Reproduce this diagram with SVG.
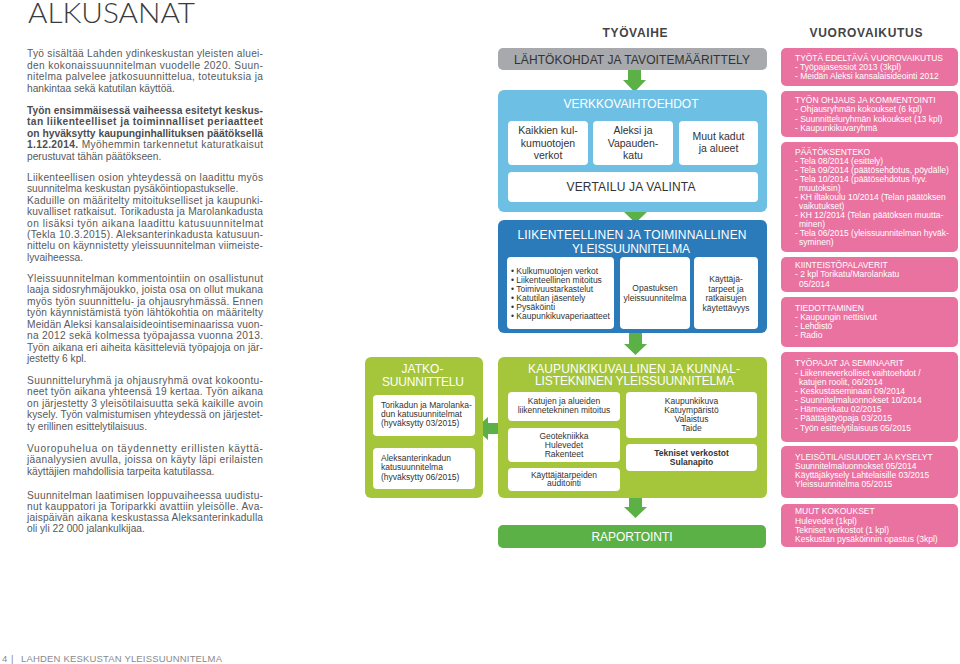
<svg xmlns="http://www.w3.org/2000/svg" width="960" height="664" viewBox="0 0 960 664">
<style>
text{font-family:"Liberation Sans",Arial,sans-serif}
.b{font-size:10.2px;fill:#58595b}
.bb{font-weight:bold;fill:#4d4d4f}
.title{font-family:Lato,"Liberation Sans",sans-serif;font-weight:300;font-size:26.5px;fill:#3a3a3c}
.foot{font-size:9.5px;fill:#8a8a8c}
.hd{font-size:12px;font-weight:bold;fill:#444;text-anchor:middle}
.wh{font-size:12px;fill:#fff;text-anchor:middle}
.dk{font-size:12px;fill:#333;text-anchor:middle}
.lbl{font-size:10.5px;fill:#333;text-anchor:middle}
.sm{font-size:8.5px;fill:#333}
.smc{font-size:8.5px;fill:#333;text-anchor:middle}
.pk{font-size:8.5px;fill:#fff}
.pkh{font-size:8.5px;fill:#fff}
.wbox{fill:#fff}
.arr{fill:#5cb146}
</style>

<g id="intro">
<text class="title" x="28" y="23" textLength="167" lengthAdjust="spacingAndGlyphs">ALKUSANAT</text>
<text class="b" x="27" y="57" textLength="236">Työ sisältää Lahden ydinkeskustan yleisten aluei-</text>
<text class="b" x="27" y="68.5" textLength="236">den kokonaissuunnitelman vuodelle 2020. Suun-</text>
<text class="b" x="27" y="80" textLength="236">nitelma palvelee jatkosuunnittelua, toteutuksia ja</text>
<text class="b" x="27" y="91.5">hankintaa sekä katutilan käyttöä.</text>

<text class="b bb" x="27" y="113.5" textLength="236">Työn ensimmäisessä vaiheessa esitetyt keskus-</text>
<text class="b bb" x="27" y="125" textLength="236">tan liikenteelliset ja toiminnalliset periaatteet</text>
<text class="b bb" x="27" y="136.5" textLength="236" lengthAdjust="spacingAndGlyphs">on hyväksytty kaupunginhallituksen päätöksellä</text>
<text class="b" x="27" y="148" textLength="236"><tspan class="bb">1.12.2014.</tspan> Myöhemmin tarkennetut katuratkaisut</text>
<text class="b" x="27" y="159.5">perustuvat tähän päätökseen.</text>

<text class="b" x="27" y="181" textLength="236">Liikenteellisen osion yhteydessä on laadittu myös</text>
<text class="b" x="27" y="192.4">suunnitelma keskustan pysäköintiopastukselle.</text>
<text class="b" x="27" y="203.8" textLength="236">Kaduille on määritelty mitoitukselliset ja kaupunki-</text>
<text class="b" x="27" y="215.2" textLength="236">kuvalliset ratkaisut. Torikadusta ja Marolankadusta</text>
<text class="b" x="27" y="226.6" textLength="236">on lisäksi työn aikana laadittu katusuunnitelmat</text>
<text class="b" x="27" y="238" textLength="236">(Tekla  10.3.2015). Aleksanterinkadusta katusuun-</text>
<text class="b" x="27" y="249.4" textLength="236">nittelu on käynnistetty yleissuunnitelman viimeiste-</text>
<text class="b" x="27" y="260.8">lyvaiheessa.</text>

<text class="b" x="27" y="281.5" textLength="236">Yleissuunnitelman kommentointiin on osallistunut</text>
<text class="b" x="27" y="293" textLength="236">laaja sidosryhmäjoukko, joista osa on ollut mukana</text>
<text class="b" x="27" y="304.5" textLength="236">myös työn suunnittelu- ja ohjausryhmässä.  Ennen</text>
<text class="b" x="27" y="316" textLength="236">työn käynnistämistä työn lähtökohtia on määritelty</text>
<text class="b" x="27" y="327.5" textLength="236">Meidän Aleksi kansalaisideointiseminaarissa vuon-</text>
<text class="b" x="27" y="339" textLength="236">na 2012 sekä kolmessa työpajassa vuonna 2013.</text>
<text class="b" x="27" y="350.5" textLength="236">Työn aikana eri aiheita käsitteleviä työpajoja on jär-</text>
<text class="b" x="27" y="362">jestetty 6 kpl.</text>

<text class="b" x="27" y="383.5" textLength="236">Suunnitteluryhmä ja ohjausryhmä ovat kokoontu-</text>
<text class="b" x="27" y="395" textLength="236">neet työn aikana yhteensä 19 kertaa. Työn aikana</text>
<text class="b" x="27" y="406.5" textLength="236">on järjestetty 3 yleisötilaisuutta sekä kaikille avoin</text>
<text class="b" x="27" y="418" textLength="236">kysely. Työn valmistumisen yhteydessä on järjestet-</text>
<text class="b" x="27" y="429.5">ty erillinen esittelytilaisuus.</text>

<text class="b" x="27" y="452" textLength="236">Vuoropuhelua on täydennetty erillisten käyttä-</text>
<text class="b" x="27" y="463.3" textLength="236">jäanalyysien avulla, joissa on käyty läpi erilaisten</text>
<text class="b" x="27" y="474.6">käyttäjien mahdollisia tarpeita katutilassa.</text>

<text class="b" x="27" y="498.5" textLength="236">Suunnitelman laatimisen loppuvaiheessa uudistu-</text>
<text class="b" x="27" y="509.8" textLength="236">nut kauppatori ja Toriparkki avattiin yleisölle. Ava-</text>
<text class="b" x="27" y="521" textLength="236">jaispäivän aikana keskustassa Aleksanterinkadulla</text>
<text class="b" x="27" y="532">oli yli 22 000 jalankulkijaa.</text>

<text class="foot" x="2" y="662">4</text>
<text class="foot" x="11" y="662">|</text>
<text class="foot" x="21" y="662" textLength="201">LAHDEN KESKUSTAN YLEISSUUNNITELMA</text>
</g>

<g id="headers">
<text class="hd" x="635" y="37" textLength="65">TYÖVAIHE</text>
<text class="hd" x="866" y="37" textLength="113">VUOROVAIKUTUS</text>
</g>

<g id="connectors">
<polygon class="arr" points="628,70 641,70 641,80 646,80 634.5,92 623,80 628,80"/>
<polygon class="arr" points="629,202 642,202 642,212 647,212 635.5,223 624,212 629,212"/>
<polygon class="arr" points="629,333 642,333 642,344 647,344 635.5,355 624,344 629,344"/>
<polygon class="arr" points="629,497 642,497 642,507 647,507 635.5,518 624,507 629,507"/>
<polygon class="arr" points="498,423 488,423 488,417 475,428.5 488,440 488,434 498,434"/>
</g>

<g id="lahtokohdat">
<rect x="498" y="48" width="269" height="22" rx="5" fill="#a7a9ac"/>
<text class="dk" x="632" y="63.5" textLength="236">LÄHTÖKOHDAT JA TAVOITEMÄÄRITTELY</text>
</g>

<g id="verkkovaihtoehdot">
<rect x="498" y="90" width="269" height="122" rx="6" fill="#6dc0e4"/>
<text class="wh" x="631" y="108" textLength="135">VERKKOVAIHTOEHDOT</text>
<rect class="wbox" x="508" y="121" width="80" height="44" rx="4"/>
<rect class="wbox" x="593" y="121" width="80" height="44" rx="4"/>
<rect class="wbox" x="679" y="121" width="79" height="44" rx="4"/>
<text class="lbl" x="548" y="134">Kaikkien kul-</text>
<text class="lbl" x="548" y="146.5">kumuotojen</text>
<text class="lbl" x="548" y="158.5">verkot</text>
<text class="lbl" x="633" y="134">Aleksi ja</text>
<text class="lbl" x="633" y="146.5">Vapauden-</text>
<text class="lbl" x="633" y="158.5">katu</text>
<text class="lbl" x="718.5" y="140">Muut kadut</text>
<text class="lbl" x="718.5" y="152">ja alueet</text>
<rect class="wbox" x="508" y="172" width="250" height="30" rx="4"/>
<text class="dk" x="631" y="191" textLength="129">VERTAILU JA VALINTA</text>
</g>

<g id="liikenteellinen">
<rect x="498" y="220" width="269" height="113" rx="6" fill="#2b7bba"/>
<text class="wh" x="632" y="238.5" textLength="229">LIIKENTEELLINEN JA TOIMINNALLINEN</text>
<text class="wh" x="631" y="252.5" textLength="118">YLEISSUUNNITELMA</text>
<rect class="wbox" x="507" y="257" width="107" height="72" rx="4"/>
<rect class="wbox" x="620" y="257" width="70" height="72" rx="4"/>
<rect class="wbox" x="694" y="257" width="64" height="72" rx="4"/>
<text class="sm" x="511" y="273.5">• Kulkumuotojen verkot</text>
<text class="sm" x="511" y="282.5">• Liikenteellinen mitoitus</text>
<text class="sm" x="511" y="291.5">• Toimivuustarkastelut</text>
<text class="sm" x="511" y="300.5">• Katutilan jäsentely</text>
<text class="sm" x="511" y="309.5">• Pysäköinti</text>
<text class="sm" x="511" y="318.5">• Kaupunkikuvaperiaatteet</text>
<text class="smc" x="655" y="291">Opastuksen</text>
<text class="smc" x="655" y="300.5">yleissuunnitelma</text>
<text class="smc" x="726" y="282">Käyttäjä-</text>
<text class="smc" x="726" y="291.5">tarpeet ja</text>
<text class="smc" x="726" y="301">ratkaisujen</text>
<text class="smc" x="726" y="310.5">käytettävyys</text>
</g>

<g id="kaupunkikuvallinen">
<rect x="498" y="357" width="269" height="141" rx="6" fill="#a5c63b"/>
<text class="wh" x="634" y="372.5" textLength="212">KAUPUNKIKUVALLINEN JA KUNNAL-</text>
<text class="wh" x="634.5" y="385" textLength="199">LISTEKNINEN YLEISSUUNNITELMA</text>
<rect class="wbox" x="508" y="392" width="112" height="29" rx="4"/>
<rect class="wbox" x="508" y="428" width="112" height="34" rx="4"/>
<rect class="wbox" x="508" y="468" width="112" height="23" rx="4"/>
<rect class="wbox" x="626" y="392" width="131" height="46" rx="4"/>
<rect class="wbox" x="626" y="444" width="131" height="27" rx="4"/>
<text class="smc" x="564" y="403.5">Katujen ja alueiden</text>
<text class="smc" x="564" y="412.5">liikennetekninen mitoitus</text>
<text class="smc" x="564" y="438.5">Geotekniikka</text>
<text class="smc" x="564" y="447.5">Hulevedet</text>
<text class="smc" x="564" y="456.5">Rakenteet</text>
<text class="smc" x="564" y="477.5">Käyttäjätarpeiden</text>
<text class="smc" x="564" y="486">auditointi</text>
<text class="smc" x="691.5" y="404">Kaupunkikuva</text>
<text class="smc" x="691.5" y="413">Katuympäristö</text>
<text class="smc" x="691.5" y="422">Valaistus</text>
<text class="smc" x="691.5" y="431">Taide</text>
<text class="smc" x="691.5" y="455.5" font-weight="bold">Tekniset verkostot</text>
<text class="smc" x="691.5" y="464.5" font-weight="bold">Sulanapito</text>
</g>

<g id="jatkosuunnittelu">
<rect x="365" y="357" width="118" height="141" rx="6" fill="#a5c63b"/>
<text class="wh" x="422.5" y="373" textLength="42">JATKO-</text>
<text class="wh" x="423" y="385.5" textLength="82">SUUNNITTELU</text>
<rect class="wbox" x="373" y="395" width="102" height="41" rx="4"/>
<rect class="wbox" x="373" y="448" width="102" height="41" rx="4"/>
<text class="sm" x="381" y="408">Torikadun ja Marolanka-</text>
<text class="sm" x="381" y="417">dun katusuunnitelmat</text>
<text class="sm" x="381" y="426">(hyväksytty 03/2015)</text>
<text class="sm" x="381" y="461">Aleksanterinkadun</text>
<text class="sm" x="381" y="470">katusuunnitelma</text>
<text class="sm" x="381" y="479.5">(hyväksytty 06/2015)</text>
</g>

<g id="raportointi">
<rect x="498" y="525" width="268" height="23" rx="5" fill="#5cb146"/>
<text class="wh" x="632" y="540.5" textLength="81">RAPORTOINTI</text>
</g>

<g id="vuorovaikutus" fill="#ea72a0">
<g id="v1">
<rect x="781" y="48" width="177" height="38" rx="5"/>
<text class="pkh" x="795" y="60.5" textLength="148">TYÖTÄ EDELTÄVÄ VUOROVAIKUTUS</text>
<text class="pk" x="795" y="70">- Työpajasessiot 2013 (3kpl)</text>
<text class="pk" x="795" y="79">- Meidän Aleksi kansalaisideointi 2012</text>
</g>
<g id="v2">
<rect x="781" y="91" width="177" height="46" rx="5"/>
<text class="pkh" x="795" y="103">TYÖN OHJAUS JA KOMMENTOINTI</text>
<text class="pk" x="795" y="112">- Ohjausryhmän kokoukset (6 kpl)</text>
<text class="pk" x="795" y="121.5">- Suunnitteluryhmän kokoukset (13 kpl)</text>
<text class="pk" x="795" y="130.5">- Kaupunkikuvaryhmä</text>
</g>
<g id="v3">
<rect x="781" y="142" width="177" height="110" rx="5"/>
<text class="pkh" x="795" y="155">PÄÄTÖKSENTEKO</text>
<text class="pk" x="795" y="164.3">- Tela 08/2014 (esittely)</text>
<text class="pk" x="795" y="173.3">- Tela 09/2014 (päätösehdotus, pöydälle)</text>
<text class="pk" x="795" y="182.3">- Tela 10/2014 (päätösehdotus hyv.</text>
<text class="pk" x="799" y="191.3">muutoksin)</text>
<text class="pk" x="795" y="200.3">- KH iltakoulu 10/2014 (Telan päätöksen</text>
<text class="pk" x="799" y="209.3">vaikutukset)</text>
<text class="pk" x="795" y="218.3">- KH 12/2014 (Telan päätöksen muutta-</text>
<text class="pk" x="799" y="227.3">minen)</text>
<text class="pk" x="795" y="236.3">- Tela 06/2015 (yleissuunnitelman hyväk-</text>
<text class="pk" x="799" y="245.3">syminen)</text>
</g>
<g id="v4">
<rect x="781" y="257" width="177" height="35" rx="5"/>
<text class="pkh" x="795" y="267.5">KIINTEISTÖPALAVERIT</text>
<text class="pk" x="795" y="277">- 2 kpl Torikatu/Marolankatu</text>
<text class="pk" x="799" y="286.5">05/2014</text>
</g>
<g id="v5">
<rect x="781" y="297" width="177" height="50" rx="5"/>
<text class="pkh" x="795" y="311">TIEDOTTAMINEN</text>
<text class="pk" x="795" y="320">- Kaupungin nettisivut</text>
<text class="pk" x="795" y="329">- Lehdistö</text>
<text class="pk" x="795" y="338">- Radio</text>
</g>
<g id="v6">
<rect x="781" y="352" width="177" height="90" rx="5"/>
<text class="pkh" x="795" y="366.3">TYÖPAJAT JA SEMINAARIT</text>
<text class="pk" x="795" y="375.7">- Liikenneverkolliset vaihtoehdot /</text>
<text class="pk" x="799" y="384.7">katujen roolit, 06/2014</text>
<text class="pk" x="795" y="394">- Keskustaseminaari 09/2014</text>
<text class="pk" x="795" y="403">- Suunnitelmaluonnokset 10/2014</text>
<text class="pk" x="795" y="412.3">- Hämeenkatu 02/2015</text>
<text class="pk" x="795" y="421.3">- Päättäjätyöpaja 03/2015</text>
<text class="pk" x="795" y="430.7">- Työn esittelytilaisuus 05/2015</text>
</g>
<g id="v7">
<rect x="781" y="446" width="177" height="52" rx="5"/>
<text class="pkh" x="795" y="460">YLEISÖTILAISUUDET JA KYSELYT</text>
<text class="pk" x="795" y="469">Suunnitelmaluonnokset 05/2014</text>
<text class="pk" x="795" y="478">Käyttäjäkysely Lahtelaisille 03/2015</text>
<text class="pk" x="795" y="487">Yleissuunnitelma 05/2015</text>
</g>
<g id="v8">
<rect x="781" y="504" width="177" height="43" rx="5"/>
<text class="pkh" x="795" y="514">MUUT KOKOUKSET</text>
<text class="pk" x="795" y="523.5">Hulevedet (1kpl)</text>
<text class="pk" x="795" y="532.5">Tekniset verkostot (1 kpl)</text>
<text class="pk" x="795" y="541.5">Keskustan pysäköinnin opastus (3kpl)</text>
</g>
</g>
</svg>
